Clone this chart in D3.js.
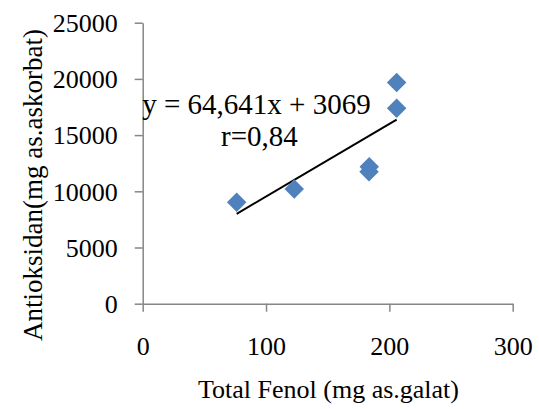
<!DOCTYPE html>
<html>
<head>
<meta charset="utf-8">
<script src="https://cdn.jsdelivr.net/npm/d3@7"></script>
<style>
  body { margin: 0; background: #fff; }
  svg, svg text { font-family: "Times New Roman", "Liberation Serif", "DejaVu Serif", serif; }
  svg { display: block; }
</style>
</head>
<body>
<svg id="chart" width="539" height="409"></svg>
<script>
// data
const fenol = [76.2, 122.9, 183.7, 183.5, 205.9, 205.9];
const antioksidan = [9030, 10200, 12180, 11740, 17380, 19690];
const xTicks = [0, 100, 200, 300];
const yTicks = [0, 5000, 10000, 15000, 20000, 25000];
const slope = 64.641;
const intercept = 3069;
const eqnLines = ["y = 64,641x + 3069", "r=0,84"];

const svg = d3.select("#chart");

// plot area
const plotLeft = 142.7, plotRight = 512.7, plotTop = 22.7, plotBottom = 303.7;

let x = d3.scaleLinear().domain([0, 300]).range([plotLeft, plotRight]);
let y = d3.scaleLinear().domain([0, 25000]).range([plotBottom, plotTop]);

const axisColor = "#868686";

// x axis
let gx = svg.append("g")
    .attr("transform", "translate(0," + plotBottom + ")")
    .call(d3.axisBottom(x).tickValues(xTicks).tickSize(8).tickSizeOuter(0).tickFormat(d3.format("d")));
gx.attr("font-family", null);
gx.select(".domain").attr("stroke", axisColor).attr("stroke-width", 1.5);
gx.selectAll(".tick line").attr("stroke", axisColor).attr("stroke-width", 1.5);
gx.selectAll(".tick text")
    .attr("y", 0).attr("dy", null)
    .attr("transform", "translate(0,51)")
    .attr("fill", "#000")
    .style("font-size", "26px");

// y axis
let gy = svg.append("g")
    .attr("transform", "translate(" + plotLeft + ",0)")
    .call(d3.axisLeft(y).tickValues(yTicks).tickSize(8).tickSizeOuter(0).tickFormat(d3.format("d")));
gy.attr("font-family", null);
gy.select(".domain").attr("stroke", axisColor).attr("stroke-width", 1.5);
gy.selectAll(".tick line").attr("stroke", axisColor).attr("stroke-width", 1.5);
gy.selectAll(".tick text")
    .attr("x", -25).attr("dy", "0.34em")
    .attr("fill", "#000")
    .style("font-size", "26px");

// trendline from min x to max x
const xMin = d3.min(fenol), xMax = d3.max(fenol);
svg.append("line")
    .attr("x1", x(xMin)).attr("y1", y(slope * xMin + intercept))
    .attr("x2", x(xMax)).attr("y2", y(slope * xMax + intercept))
    .attr("stroke", "#000")
    .attr("stroke-width", 2);

// diamond markers
const pts = fenol.map((d, i) => ({ fx: d, ay: antioksidan[i] }));
const diamond = d3.symbol().type(d3.symbolSquare).size(190);
svg.append("g")
    .selectAll("path")
    .data(pts)
    .enter().append("path")
        .attr("d", diamond)
        .attr("transform", d => "translate(" + x(d.fx) + "," + y(d.ay) + ") rotate(45)")
        .attr("fill", "#4F81BD");

// equation label
svg.append("text")
    .attr("x", 256.5).attr("y", 114)
    .attr("text-anchor", "middle")
    .style("font-size", "29px")
    .text(eqnLines[0]);
svg.append("text")
    .attr("x", 259.5).attr("y", 146)
    .attr("text-anchor", "middle")
    .style("font-size", "29px")
    .text(eqnLines[1]);

// axis titles
svg.append("text")
    .attr("x", 328.5).attr("y", 398)
    .attr("text-anchor", "middle")
    .style("font-size", "26px")
    .text("Total Fenol (mg as.galat)");

svg.append("text")
    .attr("transform", "translate(41.5,185) rotate(-90)")
    .attr("text-anchor", "middle")
    .style("font-size", "27px")
    .text("Antioksidan(mg as.askorbat)");
</script>
</body>
</html>
